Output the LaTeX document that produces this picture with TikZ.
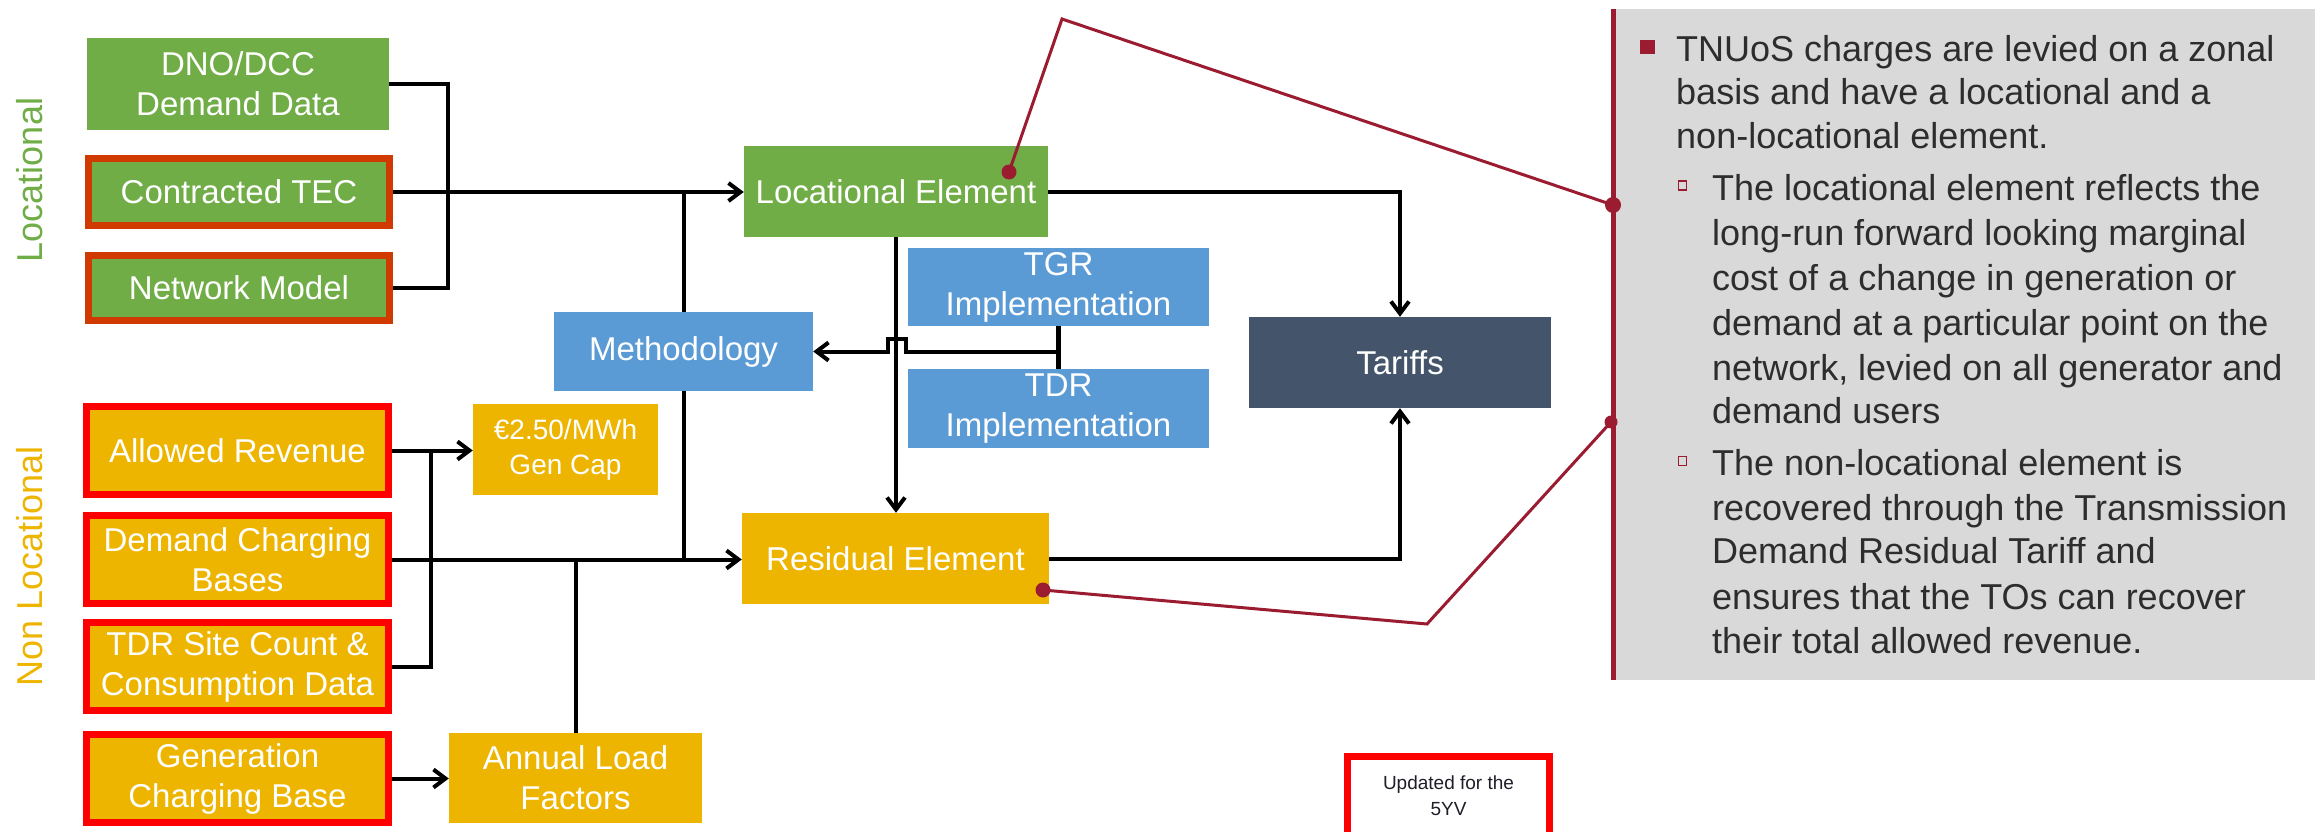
\documentclass[tikz,border=0pt]{standalone}
\usepackage{fontspec}
\setmainfont{Liberation Sans}
\usetikzlibrary{arrows.meta}
\usetikzlibrary{calc}
\definecolor{locgreen}{RGB}{112,173,71}
\definecolor{nlgold}{RGB}{237,181,0}
\definecolor{tecorange}{RGB}{208,58,0}
\definecolor{methblue}{RGB}{91,155,213}
\definecolor{tarslate}{RGB}{68,84,106}
\definecolor{calred}{RGB}{155,27,48}
\definecolor{calgray}{RGB}{217,217,217}
\definecolor{bodygray}{RGB}{45,45,45}
\definecolor{notegray}{RGB}{30,30,40}
\newcommand\boxfont{\fontsize{33}{40}\selectfont}
\newcommand\capfont{\fontsize{28}{35}\selectfont}
\newcommand\bodyfont{\fontsize{36}{44}\selectfont}
\newcommand\notefont{\fontsize{19}{26}\selectfont}
\newcommand\sidefont{\fontsize{36}{40}\selectfont}
\tikzstyle{box}=[rectangle,inner sep=0pt,minimum width=302pt,minimum height=91pt,text=white,align=center,font=\boxfont]
\tikzstyle{locbox}=[box,fill=locgreen]
\tikzstyle{tecbox}=[locbox,draw=tecorange,line width=7pt,minimum width=301pt,minimum height=67pt]
\tikzstyle{nlbox}=[box,fill=nlgold,draw=red,line width=7pt,minimum width=302pt,minimum height=88pt]
\tikzstyle{methbox}=[box,fill=methblue]
\tikzstyle{flow}=[draw,line width=4pt,-{Straight Barb[length=12pt,width=18pt]}]
\tikzstyle{link}=[draw,line width=4pt]
\tikzstyle{leader}=[draw=calred,line width=3pt]
\tikzstyle{bodytext}=[anchor=base west,inner sep=0pt,text=bodygray,font=\bodyfont]

\begin{document}
\begin{tikzpicture}[x=1pt,y=-1pt]

    \useasboundingbox (0,0) rectangle (2315,832);
    \clip (0,0) rectangle (2315,832);

    % callout panel
    \node[fill=calgray,inner sep=0pt,minimum width=702pt,minimum height=671pt,anchor=north west] (callout) at (1613,9) {};
    \draw[calred,line width=5pt] (callout.north west) -- (callout.south west);

    % locational inputs
    \node[rotate=90,text=locgreen,font=\sidefont] (loclabel) at (30,180) {Locational};
    \node[locbox,minimum height=92pt] (dno) at (238,84) {DNO/DCC\\Demand Data};
    \node[tecbox] (tec) at (239,192) {Contracted TEC};
    \node[tecbox,minimum height=65pt] (netw) at (239,288) {Network Model};

    % non locational inputs
    \node[rotate=90,text=nlgold,font=\sidefont] (nllabel) at (30,566) {Non Locational};
    \foreach \y/\name/\txt in {450.5/allowed/{Allowed Revenue}, 559.5/dcb/{Demand Charging\\Bases}, 666.5/tdrsite/{TDR Site Count \&\\Consumption Data}, 778.5/gcb/{Generation\\Charging Base}}
        \node[nlbox] (\name) at (237.5,\y) {\txt};

    \node[box,fill=nlgold,minimum width=185pt,font=\capfont] (gencap) at (565.5,449.5) {€2.50/MWh\\Gen Cap};
    \node[box,fill=nlgold,minimum width=253pt,minimum height=90pt] (alf) at (575.5,778) {Annual Load\\Factors};

    % elements
    \node[methbox,minimum width=259pt,minimum height=79pt] (meth) at (683.5,351.5) {Methodology};
    \node[locbox,minimum width=304pt] (le) at (896,191.5) {Locational Element};
    \node[methbox,minimum width=301pt,minimum height=78pt] (tgr) at (1058.5,287) {TGR\\Implementation};
    \node[methbox,minimum width=301pt,minimum height=79pt] (tdr) at (1058.5,408.5) {TDR\\Implementation};
    \node[box,fill=nlgold,minimum width=307pt] (res) at (895.5,558.5) {Residual Element};
    \node[box,fill=tarslate] (tariffs) at (1400,362.5) {Tariffs};

    \node[draw=red,line width=7pt,minimum width=202pt,anchor=north,inner xsep=0pt,inner ysep=20pt,text depth=30pt,align=center,font=\notefont,text=notegray] (upd) at (1448.5,752.5) {Updated for the\\5YV};

    % connectors
    \coordinate (jl) at (448,0);
    \coordinate (jr) at (431,0);
    \draw[link] (dno.east) -- (dno.east -| jl) -- (netw.east -| jl) -- (netw.east);
    \path[flow] (tec.east) -- (tec.east -| le.west);
    \draw[link] (meth.north) -- (meth.north |- tec.east);
    \draw[link] (meth.south) -- (meth.south |- dcb.east);
    \path[flow] (allowed.east) -- (allowed.east -| gencap.west);
    \draw[link] (tdrsite.east) -| (allowed.east -| jr);
    \path[flow] (dcb.east) -- (dcb.east -| res.west);
    \draw[link] (alf.north) -- (alf.north |- dcb.east);
    \path[flow] (gcb.east) -- (gcb.east -| alf.west);
    \path[flow] (le.south) -- (le.south |- res.north);

    \draw[link,line width=5pt] (tgr.south) -- (tdr.north);
    \coordinate (tj) at (tgr.south |- meth.east);
    \path[flow] (tj) -- ++(-153,0) -- ++(0,-13) -- ++(-18,0) -- ++(0,13) -- (meth.east);

    \path[flow] (le.east) -| (tariffs.north);
    \path[flow] (res.east) -| (tariffs.south);

    % leaders to the callout
    \coordinate (ledot) at (1009,172);
    \coordinate (resdot) at (1043,590);
    \coordinate (bendA) at (1062,19);
    \coordinate (bendB) at (1427,624);
    \coordinate (calA) at (1613,205);
    \coordinate (calB) at (1611,422);
    \draw[leader] (ledot) -- (bendA) -- (calA);
    \draw[leader] (resdot) -- (bendB) -- (calB);
    \foreach \p/\r in {ledot/7.5, resdot/7.5, calA/8, calB/6.5}
        \fill[calred] (\p) circle[radius=\r pt];

    % callout text
    \node[fill=calred,inner sep=0pt,minimum width=15pt,minimum height=14pt] (bula) at (1647.5,47) {};
    \node[draw=calred,line width=1.8pt,inner sep=0pt,minimum width=8pt,minimum height=9pt] (bulb) at (1682.5,185.5) {};
    \node[draw=calred,line width=1.8pt,inner sep=0pt,minimum width=8pt,minimum height=9pt] (bulc) at (1682.5,461) {};

    \foreach \y/\txt [count=\i] in {62/{TNUoS charges are levied on a zonal}, 105/{basis and have a locational and a}, 149/{non-locational element.}}
        \node[bodytext] (ta\i) at (1676,\y) {\txt};
    \foreach \y/\txt [count=\i] in {200/{The locational element reflects the}, 245/{long-run forward looking marginal}, 290/{cost of a change in generation or}, 335/{demand at a particular point on the}, 380/{network, levied on all generator and}, 423/{demand users}}
        \node[bodytext] (tb\i) at (1712,\y) {\txt};
    \foreach \y/\txt [count=\i] in {475/{The non-locational element is}, 520/{recovered through the Transmission}, 563/{Demand Residual Tariff and}, 609/{ensures that the TOs can recover}, 653/{their total allowed revenue.}}
        \node[bodytext] (tc\i) at (1712,\y) {\txt};

\end{tikzpicture}
\end{document}
